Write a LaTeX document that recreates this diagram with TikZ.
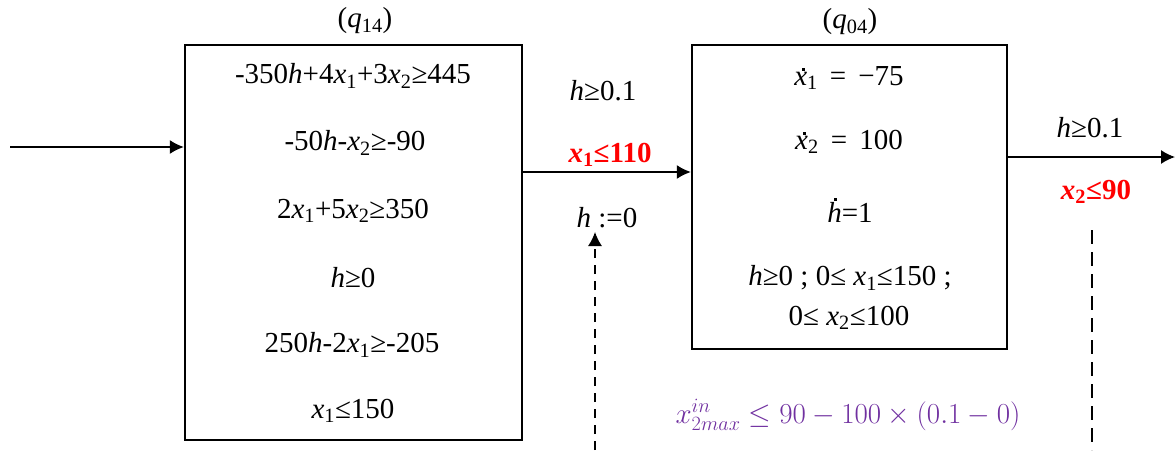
\RequirePackage{fix-cm}
\documentclass[tikz,border=0pt]{standalone}
\usepackage{fontspec}
\setmainfont{Liberation Serif}
\usetikzlibrary{arrows.meta}
\definecolor{redlbl}{RGB}{255,0,0}
\definecolor{purplelbl}{RGB}{112,48,160}
\tikzset{
  txt/.style={font=\fontsize{29}{33}\selectfont, inner sep=0pt},
  redtxt/.style={font=\fontsize{29}{33}\selectfont\bfseries, text=redlbl, inner sep=0pt},
  conn/.style={line width=1.5pt, -{Latex[length=14pt,width=14pt]}},
  dasharrow/.style={line width=1.4pt, dash pattern=on 9pt off 7pt, -{Latex[length=14pt,width=14pt]}},
  dashline/.style={line width=2pt, dash pattern=on 14pt off 8pt},
}
\newcommand{\iv}[1]{\textit{#1}}
\newcommand{\dotx}{\makebox[0pt][l]{\hspace{0.27em}\raisebox{0.5em}{\rule{0.1em}{0.1em}}}\iv{x}}
\newcommand{\doth}{\makebox[0pt][l]{\hspace{0.23em}\raisebox{0.74em}{\rule{0.1em}{0.1em}}}\iv{h}}
\begin{document}
\begin{tikzpicture}[x=1pt,y=-1pt]
\useasboundingbox (0,0) rectangle (1175,450);
% boxes
\node[draw, line width=2.4pt, minimum width=337pt, minimum height=395pt, inner sep=0pt] (b1) at (353.5,242.5) {};
\node[draw, line width=2.4pt, minimum width=315pt, minimum height=304pt, inner sep=0pt] (b2) at (849.5,197) {};
% titles
\node[txt] (t1) at (365,21) {(\iv{q}\textsubscript{14})};
\node[txt] (t2) at (850,22) {(\iv{q}\textsubscript{04})};
% box 1 texts
\node[txt] (c1) at (353,76) {-350\iv{h}+4\iv{x}\textsubscript{1}+3\iv{x}\textsubscript{2}≥445};
\node[txt] (c2) at (355,143) {-50\iv{h}-\iv{x}\textsubscript{2}≥-90};
\node[txt] (c3) at (353,211) {2\iv{x}\textsubscript{1}+5\iv{x}\textsubscript{2}≥350};
\node[txt] (c4) at (353,278) {\iv{h}≥0};
\node[txt] (c5) at (352,345) {250\iv{h}-2\iv{x}\textsubscript{1}≥-205};
\node[txt] (c6) at (353,411) {\iv{x}\textsubscript{1}≤150};
% box 2 texts
\node[txt] (d1) at (849,78) {\dotx\textsubscript{1}\, = \,−75};
\node[txt] (d2) at (849,142) {\dotx\textsubscript{2}\, = \,100};
\node[txt] (d3) at (850,210) {\doth=1};
\node[txt] (d4) at (850,278) {\iv{h}≥0 ; 0≤ \iv{x}\textsubscript{1}≤150 ;};
\node[txt] (d5) at (849,318) {0≤ \iv{x}\textsubscript{2}≤100};
% edge labels
\node[txt] (g1) at (603,91) {\iv{h}≥0.1};
\node[redtxt] (g2) at (610,155) {\iv{x}\textsubscript{1}≤110};
\node[txt] (r1) at (607,218) {\iv{h} :=0};
\node[txt] (g3) at (1090,128) {\iv{h}≥0.1};
\node[redtxt] (g4) at (1096,192) {\iv{x}\textsubscript{2}≤90};
\node[txt, text=purplelbl] (f) at (848,415) {$x_{2max}^{in} \le 90 - 100 \times (0.1 - 0)$};
% coordinates
\coordinate (start) at (10,147);
\coordinate (mid) at (0,172);
\coordinate (out) at (0,157);
\coordinate (outend) at (1175,157);
\coordinate (rs) at (595,450);
\coordinate (re) at (595,232);
\coordinate (ds) at (1092,230);
\coordinate (de) at (1092,450);
% connectors
\draw[conn] (start) -- (start -| b1.west);
\draw[conn] (mid -| b1.east) -- (mid -| b2.west);
\draw[conn] (out -| b2.east) -- (outend);
\draw[dasharrow] (rs) -- (re);
\draw[dashline] (ds) -- (de);
\end{tikzpicture}
\end{document}
